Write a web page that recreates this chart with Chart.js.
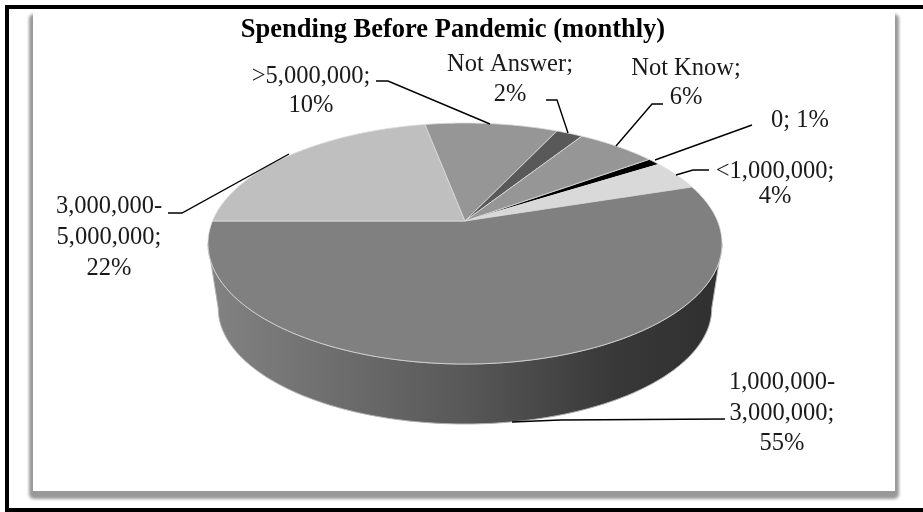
<!DOCTYPE html>
<html>
<head>
<meta charset="utf-8">
<script src="https://cdn.jsdelivr.net/npm/chart.js@4"></script>
<style>
  html, body { margin: 0; padding: 0; background: #fff; overflow: hidden; }
  #border { position: absolute; left: 5px; top: 5px; width: 918px; height: 499px;
            border: solid #000; border-width: 4px 0 4px 4px; }
  #shadow { position: absolute; left: 29px; top: 14px; width: 870px; height: 485px;
            background: #999; border-radius: 5px; filter: blur(1.5px); }
  #panel  { position: absolute; left: 33px; top: 9px; width: 862px; height: 482px; background: #fff; }
  #myChart { position: absolute; left: 0; top: 0; }
</style>
</head>
<body>
<div id="border"></div>
<div id="shadow"></div>
<div id="panel"></div>
<canvas id="myChart" width="906" height="512"></canvas>
<script>
// Slices, clockwise from the first one
var categories = ["0", "<1,000,000", "1,000,000-3,000,000", "3,000,000-5,000,000", ">5,000,000", "Not Answer", "Not Know"];
var shares = [1, 4, 55, 22, 10, 2, 6];
var colors = ["#000000", "#d9d9d9", "#808080", "#bfbfbf", "#969696", "#595959", "#969696"];

// Label placement, same order as categories
var labelSpots = [
  { x: 800, y: [127], leader: [[752, 125], [655, 160]], oneLine: true },
  { x: 775, y: [178, 203], leader: [[709, 170], [693, 170], [676, 175]] },
  { x: 782, y: [389, 420, 450], leader: [[725, 419], [560, 420], [512, 422]] },
  { x: 109, y: [213, 244, 275], leader: [[168, 213], [182, 213], [289, 154]] },
  { x: 311, y: [83, 112], leader: [[376, 81], [388, 81], [490, 124]] },
  { x: 510, y: [71, 101], leader: [[546, 100], [557, 100], [568, 133]] },
  { x: 686, y: [75, 104], leader: [[663, 104], [652, 104], [616, 146]] }
];

// How the flat pie is tilted: half width, half height, perspective, wall height
var tilt = { a: 252.5, b: 116.3, k: 0.1867, depth: 65.7, shrink: 0.96 };

function project(el, angle, low) {
  var u = Math.cos(angle), v = Math.sin(angle), w = 1 - tilt.k * v;
  var s = low ? tilt.shrink : 1;
  return [el.x + s * tilt.a * u / w, el.y + (low ? tilt.depth : 0) + s * tilt.b * v / w];
}

function arcPoints(el, from, to, low) {
  var pts = [];
  var steps = Math.ceil((to - from) * 60);
  for (var i = 0; i <= steps; i++) {
    pts.push(project(el, from + (to - from) * i / steps, low));
  }
  return pts;
}

function tracePath(ctx, pts) {
  ctx.beginPath();
  pts.forEach(function (p, i) { i ? ctx.lineTo(p[0], p[1]) : ctx.moveTo(p[0], p[1]); });
}

var tiltedPie = {
  id: "tiltedPie",
  afterLayout: function (chart) {
    // title sits a little left of the pie
    chart.titleBlock.left = 0;
  },
  beforeDatasetsDraw: function (chart) {
    var ctx = chart.ctx;
    var arcs = chart.getDatasetMeta(0).data;
    ctx.save();

    // Wall under the biggest slice, the only one that faces us.
    // It runs between the two points where the outline turns back.
    var big = arcs[shares.indexOf(Math.max.apply(null, shares))];
    var from = Math.max(big.startAngle, Math.asin(tilt.k));
    var to = Math.min(big.endAngle, Math.PI - Math.asin(tilt.k));
    var wall = arcPoints(big, from, to, false).concat(arcPoints(big, from, to, true).reverse());
    var grad = ctx.createLinearGradient(big.x - tilt.a, 0, big.x + tilt.a, 0);
    grad.addColorStop(0, "#828282");
    grad.addColorStop(0.5, "#585858");
    grad.addColorStop(0.8, "#383838");
    grad.addColorStop(1, "#303030");
    tracePath(ctx, wall);
    ctx.closePath();
    ctx.fillStyle = grad;
    ctx.fill();
    ctx.strokeStyle = "#b0b0b0";
    ctx.lineWidth = 1;
    ctx.stroke();

    arcs.forEach(function (el, i) {
      tracePath(ctx, [[el.x, el.y]].concat(arcPoints(el, el.startAngle, el.endAngle, false)));
      ctx.closePath();
      ctx.fillStyle = colors[i];
      ctx.fill();
      ctx.strokeStyle = "#dcdcdc";
      ctx.lineWidth = 0.8;
      ctx.stroke();
    });
    ctx.restore();
    return false;
  },
  afterDraw: function (chart) {
    var ctx = chart.ctx;
    ctx.save();
    ctx.font = "24.5px 'Liberation Serif'";
    ctx.textAlign = "center";
    ctx.fillStyle = "#1a1a1a";
    ctx.strokeStyle = "#000";
    ctx.lineWidth = 1.4;
    categories.forEach(function (name, i) {
      var spot = labelSpots[i];
      var text = name + "; " + shares[i] + "%";
      var lines = spot.oneLine ? [text] : text.split(/(?<=-)|(?<=;) /);
      lines.forEach(function (line, j) { ctx.fillText(line, spot.x, spot.y[j]); });
      tracePath(ctx, spot.leader);
      ctx.stroke();
    });
    ctx.restore();
  }
};

var myChart = new Chart(document.getElementById("myChart"), {
  type: "pie",
  data: {
    labels: categories,
    datasets: [{ data: shares, backgroundColor: colors, borderWidth: 0 }]
  },
  options: {
    responsive: false,
    animation: false,
    rotation: 54,
    layout: { padding: { left: 24, right: 0, top: 0, bottom: 119 } },
    plugins: {
      legend: { display: false },
      tooltip: { enabled: false },
      title: {
        display: true,
        text: "Spending Before Pandemic (monthly)",
        color: "#000",
        font: { family: "'Liberation Serif'", size: 26.5, weight: "bold", lineHeight: 1.2 },
        padding: { top: 14, bottom: 3.2 }
      }
    }
  },
  plugins: [tiltedPie]
});
</script>
</body>
</html>
